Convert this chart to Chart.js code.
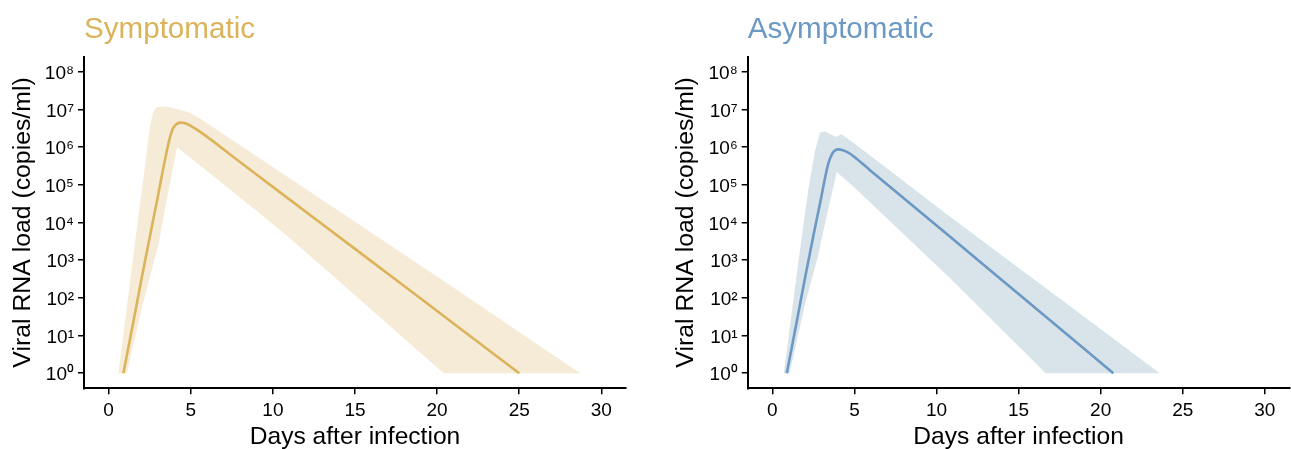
<!DOCTYPE html>
<html>
<head>
<meta charset="utf-8">
<script src="https://cdn.jsdelivr.net/npm/chart.js@4/dist/chart.umd.min.js"></script>
<style>
  html, body { margin: 0; padding: 0; background: #fff; }
  #wrap { position: relative; width: 1291px; height: 449px; overflow: hidden; }
  .panel { position: absolute; top: 0; height: 449px; }
</style>
</head>
<body>
<div id="wrap">
  <div class="panel" style="left:0;width:645px"><canvas id="sym" width="645" height="449"></canvas></div>
  <div class="panel" style="left:645px;width:646px"><canvas id="asym" width="646" height="449"></canvas></div>
</div>
<script>
// ---- axis ticks ----
const xTicks = [0, 5, 10, 15, 20, 25, 30];
const yTickExponents = [0, 1, 2, 3, 4, 5, 6, 7, 8];

// ---- Symptomatic (values in log10 copies/ml) ----
const symMedianDays  = [0.9, 1.5, 2.0, 2.5, 3.0, 3.4, 3.7, 3.9, 4.1, 4.37, 4.6, 4.85, 5.1, 5.6, 7.6, 10.5, 15, 20, 25];
const symMedianLog10 = [0, 1.35, 2.5, 3.6, 4.7, 5.6, 6.2, 6.48, 6.6, 6.65, 6.64, 6.6, 6.54, 6.4, 5.74, 4.78, 3.3, 1.65, 0];
const symUpperDays   = [0.6, 1.6, 2.1, 2.5, 2.7, 2.9, 3.3, 3.8, 4.3, 5.0, 5.6, 7.6, 10.5, 13.5, 20, 28.7];
const symUpperLog10  = [0, 3.45, 5.1, 6.5, 6.92, 7.06, 7.08, 7.05, 7.0, 6.9, 6.75, 6.17, 5.33, 4.46, 2.57, 0];
const symLowerDays   = [1.1, 2.0, 3.05, 3.6, 4.17, 5.6, 7.6, 10.5, 13.5, 17, 20.4];
const symLowerLog10  = [0, 1.7, 3.45, 4.75, 6.0, 5.5, 4.8, 3.78, 2.65, 1.3, 0];

// ---- Asymptomatic (values in log10 copies/ml) ----
const asymMedianDays  = [0.88, 1.5, 2.0, 2.5, 2.9, 3.4, 3.65, 3.85, 4.02, 4.3, 4.6, 5.0, 5.95, 10.83, 15, 20.77];
const asymMedianLog10 = [0, 1.4, 2.55, 3.65, 4.5, 5.55, 5.83, 5.92, 5.94, 5.92, 5.86, 5.74, 5.39, 3.62, 2.1, 0];
const asymUpperDays   = [0.7, 1.6, 2.2, 2.6, 2.9, 3.2, 3.6, 3.9, 4.2, 5.0, 10.83, 23.6];
const asymUpperLog10  = [0, 3.0, 4.9, 5.9, 6.38, 6.42, 6.33, 6.27, 6.34, 6.1, 4.15, 0];
const asymLowerDays   = [1.05, 2.0, 2.75, 3.3, 3.92, 5.0, 10.83, 16.65];
const asymLowerLog10  = [0, 1.85, 3.05, 4.15, 5.34, 4.93, 2.52, 0];

const FONT = "'Liberation Sans', Arial, Helvetica, sans-serif";
const SUP = ['\u2070', '\u00B9', '\u00B2', '\u00B3', '\u2074', '\u2075', '\u2076', '\u2077', '\u2078', '\u2079'];

function toPoints(days, logs) {
  return days.map((d, i) => ({ x: d, y: Math.pow(10, logs[i]) }));
}

function makePanel(id, cfg) {
  const band = toPoints(cfg.upperDays, cfg.upperLog)
    .concat(toPoints(cfg.lowerDays, cfg.lowerLog).reverse());
  const median = toPoints(cfg.medianDays, cfg.medianLog);
  return new Chart(document.getElementById(id), {
    type: 'line',
    data: {
      datasets: [
        { data: median, fill: false, borderColor: cfg.color, borderWidth: 2.6, pointRadius: 0,
          cubicInterpolationMode: 'monotone', order: 0 },
        { data: band, fill: 'shape', backgroundColor: cfg.bandColor, borderColor: cfg.bandColor,
          borderWidth: 0, pointRadius: 0, tension: 0, order: 1 }
      ]
    },
    options: {
      responsive: false,
      animation: false,
      events: [],
      layout: { padding: { left: cfg.padLeft, right: cfg.padRight, top: 0, bottom: 0 } },
      plugins: {
        legend: { display: false },
        tooltip: { enabled: false },
        title: {
          display: true, text: cfg.title, align: 'start', fullSize: false,
          color: cfg.color, font: { family: FONT, size: 29.6, weight: 'normal' },
          padding: { top: 12, bottom: 9.2 }
        }
      },
      scales: {
        x: {
          type: 'linear', min: -1.5, max: 31.5,
          afterBuildTicks: s => { s.ticks = xTicks.map(v => ({ value: v })); },
          afterFit: s => { s.height = 60.7; },
          ticks: { color: '#000', font: { family: FONT, size: 19 }, padding: 5, maxRotation: 0, autoSkip: false },
          grid: { drawOnChartArea: false, drawTicks: true, tickLength: 6, color: '#000', lineWidth: 1.5 },
          border: { display: true, color: '#000', width: 2 },
          title: { display: true, text: 'Days after infection', color: '#000',
                   font: { family: FONT, size: 24.6 }, padding: { top: 0, bottom: -2.5 } }
        },
        y: {
          type: 'logarithmic', min: Math.pow(10, -0.4), max: Math.pow(10, 8.4),
          afterBuildTicks: s => { s.ticks = yTickExponents.map(e => ({ value: Math.pow(10, e) })); },
          afterFit: s => { s.width = cfg.yWidth; },
          ticks: {
            color: '#000', font: { family: FONT, size: 19 }, padding: 4, autoSkip: false, labelOffset: 2,
            callback: v => '10' + SUP[Math.round(Math.log10(v))]
          },
          grid: { drawOnChartArea: false, drawTicks: true, tickLength: 6, color: '#000', lineWidth: 1.5 },
          border: { display: true, color: '#000', width: 2 },
          title: { display: true, text: 'Viral RNA load (copies/ml)', color: '#000',
                   font: { family: FONT, size: 24.8 }, padding: { top: 8.2, bottom: 0 } }
        }
      }
    }
  });
}

makePanel('sym', {
  title: 'Symptomatic', color: '#DBB35A', bandColor: '#F5EBD6',
  medianDays: symMedianDays, medianLog: symMedianLog10,
  upperDays: symUpperDays, upperLog: symUpperLog10,
  lowerDays: symLowerDays, lowerLog: symLowerLog10,
  padLeft: 0, padRight: 19, yWidth: 84
});
makePanel('asym', {
  title: 'Asymptomatic', color: '#6B99C3', bandColor: '#D9E3EA',
  medianDays: asymMedianDays, medianLog: asymMedianLog10,
  upperDays: asymUpperDays, upperLog: asymUpperLog10,
  lowerDays: asymLowerDays, lowerLog: asymLowerLog10,
  padLeft: 18, padRight: 1.5, yWidth: 84.7
});
</script>
</body>
</html>
